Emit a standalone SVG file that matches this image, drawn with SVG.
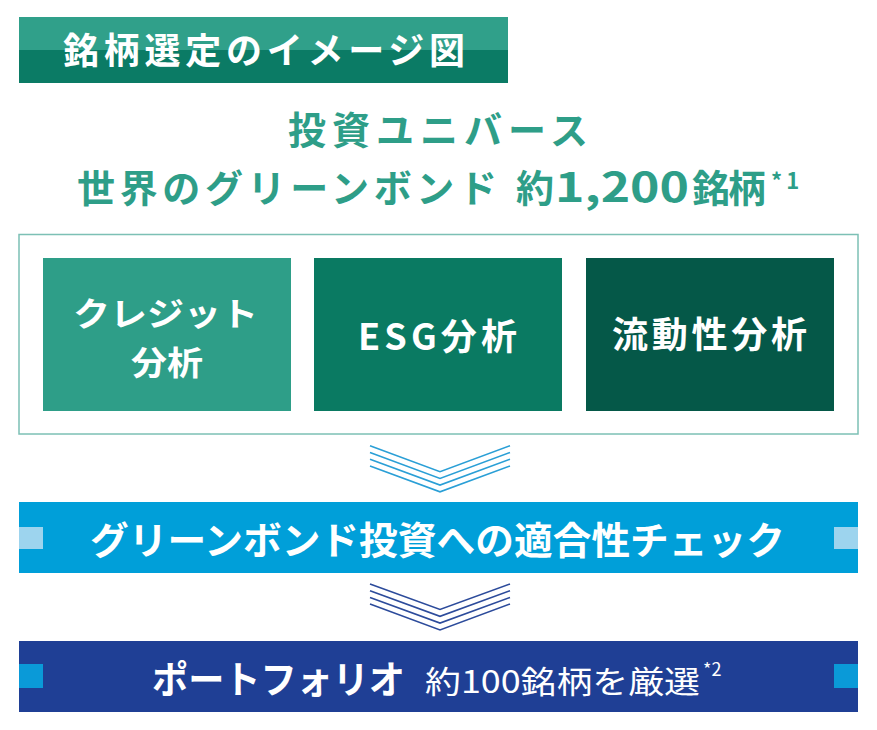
<svg xmlns="http://www.w3.org/2000/svg" width="877" height="730" viewBox="0 0 877 730">
<style>
text{font-family:"Noto Sans CJK JP","Noto Sans",sans-serif;}
.b{font-weight:bold;}
.w{fill:#ffffff;}
.t{fill:#2e9e88;font-weight:bold;}
.chev1{fill:none;stroke:#2a9fd6;stroke-width:1.6;}
.chev2{fill:none;stroke:#2c4b9b;stroke-width:1.6;}
</style>
<rect width="877" height="730" fill="#ffffff"/>
<g id="header">
<rect x="19" y="17" width="489" height="34" fill="#30a08a"/>
<rect x="19" y="50" width="489" height="33" fill="#0b7b65"/>
<text x="63" y="64" class="b w" font-size="36" textLength="402" lengthAdjust="spacing">銘柄選定のイメージ図</text>
</g>
<g id="title">
<text x="288" y="144" class="t" font-size="38" textLength="300" lengthAdjust="spacing">投資ユニバース</text>
<text y="202" class="t" font-size="38"><tspan x="77" textLength="420" lengthAdjust="spacing">世界のグリーンボンド</tspan><tspan x="516">約</tspan><tspan x="555" font-size="40" textLength="134" lengthAdjust="spacingAndGlyphs">1,200</tspan><tspan x="692" textLength="74" lengthAdjust="spacing">銘柄</tspan><tspan x="771" y="189" font-size="22" letter-spacing="4">*1</tspan></text>
</g>
<g id="universe">
<rect x="19" y="234.5" width="839" height="199.5" fill="none" stroke="#7cc0b5" stroke-width="1.5"/>
</g>
<g id="credit">
<rect x="43" y="258" width="248" height="153" fill="#2e9e88"/>
<text x="73" y="326" class="b w" font-size="33" textLength="185" lengthAdjust="spacingAndGlyphs">クレジット</text>
<text x="131" y="375" class="b w" font-size="33" textLength="72" lengthAdjust="spacingAndGlyphs">分析</text>
</g>
<g id="esg">
<rect x="314" y="258" width="248" height="153" fill="#0a7a62"/>
<text x="358" y="350" class="b w" font-size="36" textLength="159" lengthAdjust="spacing">ESG分析</text>
</g>
<g id="liquidity">
<rect x="586" y="258" width="248" height="153" fill="#055848"/>
<text x="612" y="348" class="b w" font-size="36" textLength="195" lengthAdjust="spacing">流動性分析</text>
</g>
<g id="connectors">
<polyline class="chev1" points="370,445.7 440,471.7 510,445.7"/>
<polyline class="chev1" points="370,452.5 440,478.4 510,452.5"/>
<polyline class="chev1" points="370,459.2 440,485.1 510,459.2"/>
<polyline class="chev1" points="370,466 440,491.8 510,466"/>
<polyline class="chev2" points="370,584 440,609.5 510,584"/>
<polyline class="chev2" points="370,590.7 440,616.3 510,590.7"/>
<polyline class="chev2" points="370,597.4 440,623.1 510,597.4"/>
<polyline class="chev2" points="370,604 440,630 510,604"/>
</g>
<g id="check">
<rect x="19" y="502" width="839" height="71" fill="#009fd9"/>
<rect x="19" y="527" width="24" height="22" fill="#9dd4ee"/>
<rect x="834" y="527" width="24" height="22" fill="#9dd4ee"/>
<text x="90" y="554" class="b w" font-size="38" textLength="695" lengthAdjust="spacingAndGlyphs">グリーンボンド投資への適合性チェック</text>
</g>
<g id="portfolio">
<rect x="19" y="641" width="839" height="71" fill="#1f3f95"/>
<rect x="834" y="664" width="24" height="24" fill="#0a9ad8"/>
<rect x="19" y="664" width="24" height="24" fill="#0a9ad8"/>
<text y="693" class="w"><tspan x="152" class="b" font-size="38" textLength="253" lengthAdjust="spacingAndGlyphs">ポートフォリオ</tspan><tspan x="425" font-size="31" textLength="275" lengthAdjust="spacingAndGlyphs">約100銘柄を厳選</tspan><tspan x="703" y="676" font-size="18">*2</tspan></text>
</g>
</svg>
